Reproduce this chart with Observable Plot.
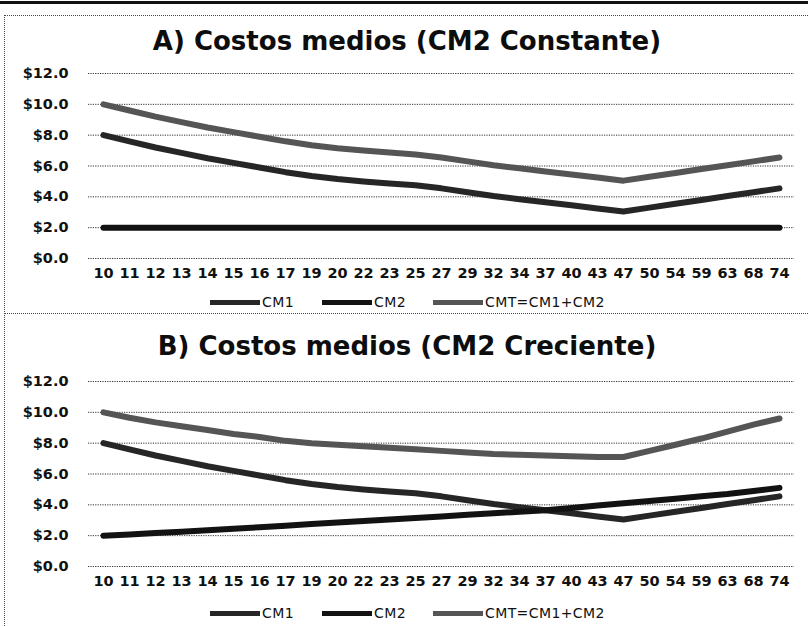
<!DOCTYPE html>
<html>
<head>
<meta charset="utf-8">
<script src="https://cdn.jsdelivr.net/npm/d3@7"></script>
<script src="https://cdn.jsdelivr.net/npm/@observablehq/plot@0.6"></script>
<style>
  html, body { margin: 0; padding: 0; background: #fff; }
  #root { position: relative; width: 808px; height: 626px; overflow: hidden; background: #fff; font-family: "DejaVu Sans", sans-serif; color: #111; }
  .abs { position: absolute; }
  .title { position: absolute; left: 0; width: 814px; text-align: center; font-weight: bold; font-size: 26px; line-height: 30px; color: #0d0d0d; }
  .leg-sw { position: absolute; height: 5px; width: 50px; }
  .leg-tx { position: absolute; font-size: 14px; line-height: 16px; letter-spacing: 0.4px; color: #111; }
</style>
</head>
<body>
<div id="root"></div>
<script>
// ---- data ----
const categories = ["10","11","12","13","14","15","16","17","19","20","22","23","25","27","29","32","34","37","40","43","47","50","54","59","63","68","74"];
const seriesNames = ["CM1", "CM2", "CMT=CM1+CM2"];
const cm1 = [8.0,7.6,7.2,6.85,6.5,6.2,5.9,5.6,5.35,5.15,5.0,4.87,4.75,4.55,4.3,4.05,3.85,3.65,3.45,3.25,3.05,3.3,3.55,3.8,4.05,4.3,4.55];
const cm2A = [2,2,2,2,2,2,2,2,2,2,2,2,2,2,2,2,2,2,2,2,2,2,2,2,2,2,2];
const cmtA = [10.0,9.6,9.2,8.85,8.5,8.2,7.9,7.6,7.35,7.15,7.0,6.87,6.75,6.55,6.3,6.05,5.85,5.65,5.45,5.25,5.05,5.3,5.55,5.8,6.05,6.3,6.55];
const cm2B = [2.0,2.08,2.17,2.26,2.35,2.45,2.55,2.65,2.75,2.85,2.95,3.05,3.15,3.25,3.35,3.45,3.55,3.65,3.8,3.95,4.1,4.25,4.4,4.55,4.7,4.9,5.1];
const cmtB = [10.0,9.65,9.35,9.1,8.85,8.6,8.4,8.15,8.0,7.9,7.8,7.7,7.6,7.5,7.4,7.3,7.25,7.2,7.15,7.1,7.1,7.5,7.9,8.3,8.75,9.2,9.6];
const yTicks = [0,2,4,6,8,10,12];
const titleA = "A) Costos medios (CM2 Constante)";
const titleB = "B) Costos medios (CM2 Creciente)";
const seriesColors = ["#262626", "#121212", "#555555"];

function rows(a, b, c) {
  const out = [];
  [a, b, c].forEach((arr, s) => arr.forEach((v, i) => out.push({cat: categories[i], value: v, series: seriesNames[s]})));
  return out;
}

function chart(data) {
  return Plot.plot({
    width: 808, height: 228,
    marginLeft: 88, marginRight: 14, marginTop: 15, marginBottom: 28,
    style: {fontFamily: "DejaVu Sans", background: "transparent", color: "#111"},
    x: {type: "point", domain: categories, padding: 0.5, label: null},
    y: {domain: [0, 12], label: null},
    color: {domain: seriesNames, range: seriesColors},
    marks: [
      Plot.ruleY(yTicks, {stroke: "#333", strokeWidth: 1, strokeDasharray: "1.2,1.2"}),
      Plot.axisY(yTicks, {tickSize: 0, tickPadding: 20, tickFormat: d => "$" + d.toFixed(1), fontSize: 14.5, fontWeight: "bold", label: null}),
      Plot.axisX({tickSize: 0, tickPadding: 9, fontSize: 14.5, fontWeight: "bold", label: null}),
      Plot.lineY(data, {x: "cat", y: "value", z: "series", stroke: "series", strokeWidth: 6, strokeLinejoin: "round", strokeLinecap: "round"})
    ]
  });
}

const root = document.getElementById("root");
function add(html) { const d = document.createElement("div"); d.innerHTML = html; const el = d.firstElementChild; root.appendChild(el); return el; }

// frame lines
add('<div class="abs" style="left:0;top:1px;width:808px;height:3px;background:#111"></div>');
add('<div class="abs" style="left:5px;top:15px;width:803px;height:0;border-top:1px dotted #444"></div>');
add('<div class="abs" style="left:4px;top:15px;width:0;height:611px;border-left:1px dotted #444"></div>');
add('<div class="abs" style="left:5px;top:313px;width:803px;height:0;border-top:1px dotted #444"></div>');

function panel(title, titleTop, svgTop, legendY, data) {
  const t = add('<div class="title"></div>');
  t.textContent = title;
  t.style.top = titleTop + "px";
  const svg = chart(data);
  svg.style.position = "absolute";
  svg.style.left = "0px";
  svg.style.top = svgTop + "px";
  root.appendChild(svg);
  const sw = [210, 322, 433];
  seriesNames.forEach((n, i) => {
    const s = add('<div class="leg-sw"></div>');
    s.style.left = sw[i] + "px";
    s.style.top = (legendY - 2.5) + "px";
    s.style.background = seriesColors[i];
    const tx = add('<div class="leg-tx"></div>');
    tx.textContent = n;
    tx.style.left = (sw[i] + 52) + "px";
    tx.style.top = (legendY - 8) + "px";
  });
}

panel(titleA, 26, 58, 302, rows(cm1, cm2A, cmtA));
panel(titleB, 331, 366, 613, rows(cm1, cm2B, cmtB));
</script>
</body>
</html>
